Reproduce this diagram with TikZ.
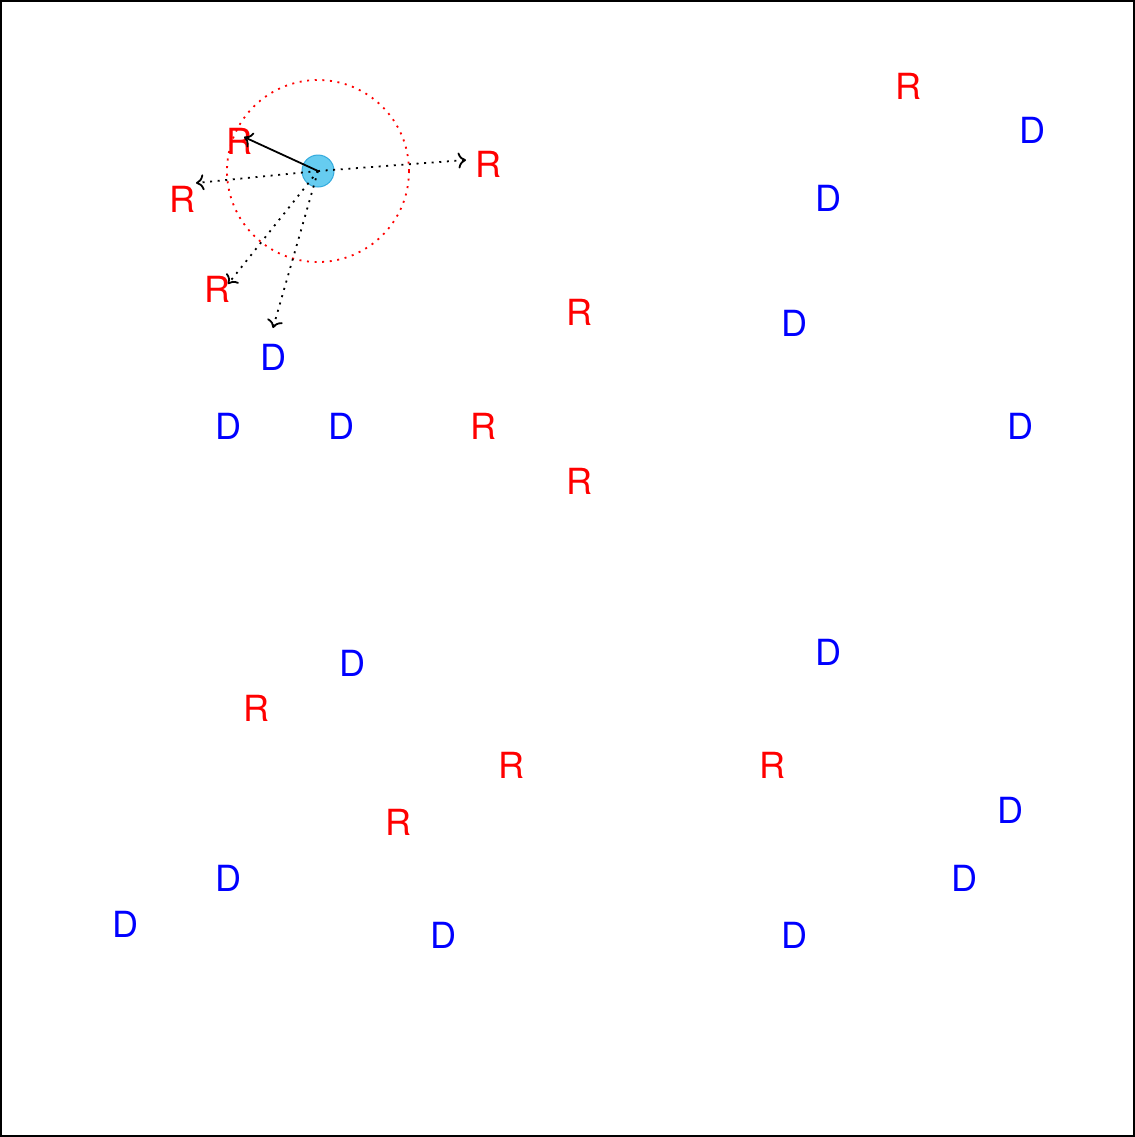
\documentclass[tikz,border=0pt]{standalone}
\usepackage{fontspec}
\setsansfont{TeX Gyre Heros}
\usetikzlibrary{arrows.meta,calc}
\definecolor{drRed}{HTML}{FF0000}
\definecolor{drBlue}{HTML}{0000FF}
\definecolor{drSky}{HTML}{66CCF0}
\definecolor{drSkyEdge}{HTML}{33AADD}
\tikzset{
  dr frame/.style={draw=black, line width=1pt},
  dr r/.style={font=\fontsize{18}{20}\sffamily, text=drRed, inner sep=2pt},
  dr d/.style={font=\fontsize{18}{20}\sffamily, text=drBlue, inner sep=2pt},
  dr agent/.style={circle, fill=drSky, draw=drSkyEdge, line width=0.5pt, minimum size=16pt, inner sep=0pt},
  dr dots/.style={dash pattern=on 1pt off 2.8pt},
  dr range/.style={draw=drRed, dr dots, line width=0.9pt},
  dr link/.style={draw=black, line width=0.9pt, -{To[length=4pt,width=8pt]}},
  dr probe/.style={draw=black, dr dots, line width=0.9pt, -{To[length=4pt,width=8pt]}},
}
\begin{document}
\begin{tikzpicture}[x=0.5pt, y=-0.5pt]
  \useasboundingbox (0,0) rectangle (1135,1137);
  \draw[dr frame] (1,1) rectangle (1134,1136);
  % R letters
  \node[dr r] (r1) at (908,86) {R};
  \node[dr r] (r2) at (239,141) {R};
  \node[dr r] (r3) at (182,199) {R};
  \node[dr r] (r4) at (488,164) {R};
  \node[dr r] (r5) at (217,289) {R};
  \node[dr r] (r6) at (579,312) {R};
  \node[dr r] (r7) at (483,426) {R};
  \node[dr r] (r8) at (579,481) {R};
  \node[dr r] (r9) at (256,708) {R};
  \node[dr r] (r10) at (511,765) {R};
  \node[dr r] (r11) at (772,765) {R};
  \node[dr r] (r12) at (398,822) {R};
  % D letters
  \node[dr d] (d1) at (1032,130) {D};
  \node[dr d] (d2) at (828,198) {D};
  \node[dr d] (d3) at (794,323) {D};
  \node[dr d] (d4) at (273,357) {D};
  \node[dr d] (d5) at (228,426) {D};
  \node[dr d] (d6) at (341,426) {D};
  \node[dr d] (d7) at (1020,426) {D};
  \node[dr d] (d8) at (352,663) {D};
  \node[dr d] (d9) at (828,652) {D};
  \node[dr d] (d10) at (1010,810) {D};
  \node[dr d] (d11) at (228,878) {D};
  \node[dr d] (d12) at (964,878) {D};
  \node[dr d] (d13) at (125,924) {D};
  \node[dr d] (d14) at (443,935) {D};
  \node[dr d] (d15) at (794,935) {D};
  % Agent and its sensing range
  \node[dr agent] (agent) at (318,171) {};
  \draw[dr range] (agent.center) circle (91);
  \draw[dr link] (agent.center) -- ($(r2)+(5,-4)$);
  \draw[dr probe] (agent.center) -- ($(r4)+(-22,-4)$);
  \draw[dr probe] (agent.center) -- ($(r3)+(14,-16)$);
  \draw[dr probe] (agent.center) -- ($(r5)+(11,-5)$);
  \draw[dr probe] (agent.center) -- ($(d4)+(0,-29)$);
\end{tikzpicture}
\end{document}
